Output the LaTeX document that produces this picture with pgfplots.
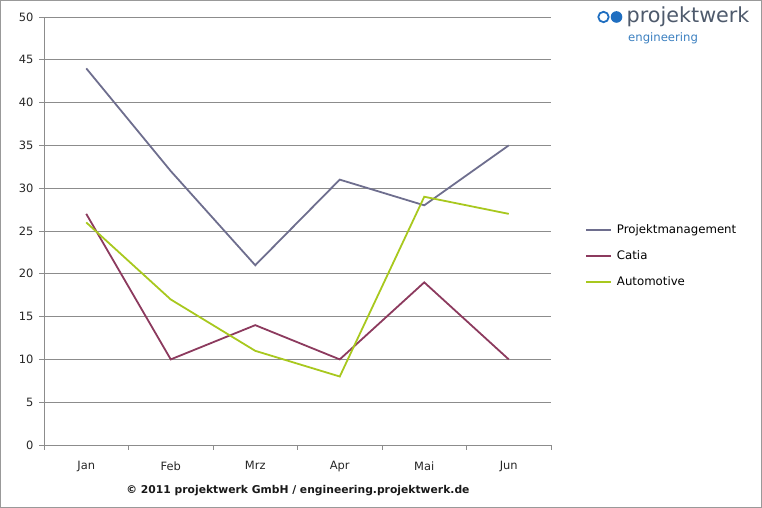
\documentclass[border=0pt]{standalone}
\usepackage{pgfplots}
\pgfplotsset{compat=1.18}
\usepackage{fontspec}
\setmainfont{DejaVu Sans}
\definecolor{pmcol}{HTML}{6E6E8E}
\definecolor{catcol}{HTML}{8C3A5E}
\definecolor{autcol}{HTML}{A8C81E}
\definecolor{gridcol}{HTML}{8C8C8C}
\definecolor{logoblue}{HTML}{1F6EC0}
\definecolor{logogray}{HTML}{4E5A6C}
\definecolor{engblue}{HTML}{3C80C0}
\begin{document}
\begin{tikzpicture}[x=1bp,y=1bp]
\useasboundingbox (0,0) rectangle (762,508);
\draw[gray!80, line width=1.2bp] (0.6,0.6) rectangle (761.4,507.4);
\begin{axis}[
  at={(44bp,63bp)}, anchor=south west,
  scale only axis, width=507bp, height=428bp,
  xmin=-0.5, xmax=5.5, ymin=0, ymax=50,
  axis lines*=left,
  axis line style={gridcol, line width=0.8bp},
  xtick={0,...,5},
  xticklabels={Jan,Feb,Mrz,Apr,Mai,Jun},
  minor xtick={-0.5,0.5,...,5.5},
  major x tick style={draw=none},
  minor x tick style={gridcol, line width=0.8bp},
  minor tick length=5bp,
  ytick={0,5,...,50},
  major tick length=5bp,
  y tick style={gridcol, line width=0.8bp},
  tick align=outside,
  ymajorgrids, grid style={gridcol, line width=0.8bp},
  ticklabel style={font=\fontsize{11.5}{13}\selectfont, text=black!85},
  xticklabel style={yshift=-8bp},
  yticklabel style={xshift=-2bp},
  /pgf/number format/assume math mode=true,
  legend style={at={(1.067,0.4416)}, anchor=west, draw=none, fill=none,
    font=\fontsize{11.8}{13}\selectfont, row sep=11.5bp, inner sep=0pt,
    cells={anchor=west}},
  legend image code/.code={\draw[#1, line width=1.8bp] (0bp,0bp) -- (25bp,0bp);},
  every axis plot/.append style={line width=1.8bp},
]
\addplot[pmcol] coordinates {(0,44) (1,32) (2,21) (3,31) (4,28) (5,35)};
\addplot[catcol] coordinates {(0,27) (1,10) (2,14) (3,10) (4,19) (5,10)};
\addplot[autcol] coordinates {(0,26) (1,17) (2,11) (3,8) (4,29) (5,27)};
\legend{\hspace{3bp}Projektmanagement,\hspace{3bp}Catia,\hspace{3bp}Automotive}
\end{axis}
\node[font=\fontsize{10.8}{12}\selectfont\bfseries, text=black!90] at (298,17) {© 2011 projektwerk GmbH / engineering.projektwerk.de};
\draw[logoblue, line width=1.8bp] (603.5,491) circle (5.2);
\fill[logoblue] (616.5,491) circle (5.8);
\node[anchor=west, inner sep=0pt, font=\fontsize{20.8}{22}\selectfont, text=logogray] at (626.5,491) {projektwerk};
\node[anchor=west, inner sep=0pt, font=\fontsize{11.7}{13}\selectfont, text=engblue] at (628,470) {engineering};
\end{tikzpicture}
\end{document}
